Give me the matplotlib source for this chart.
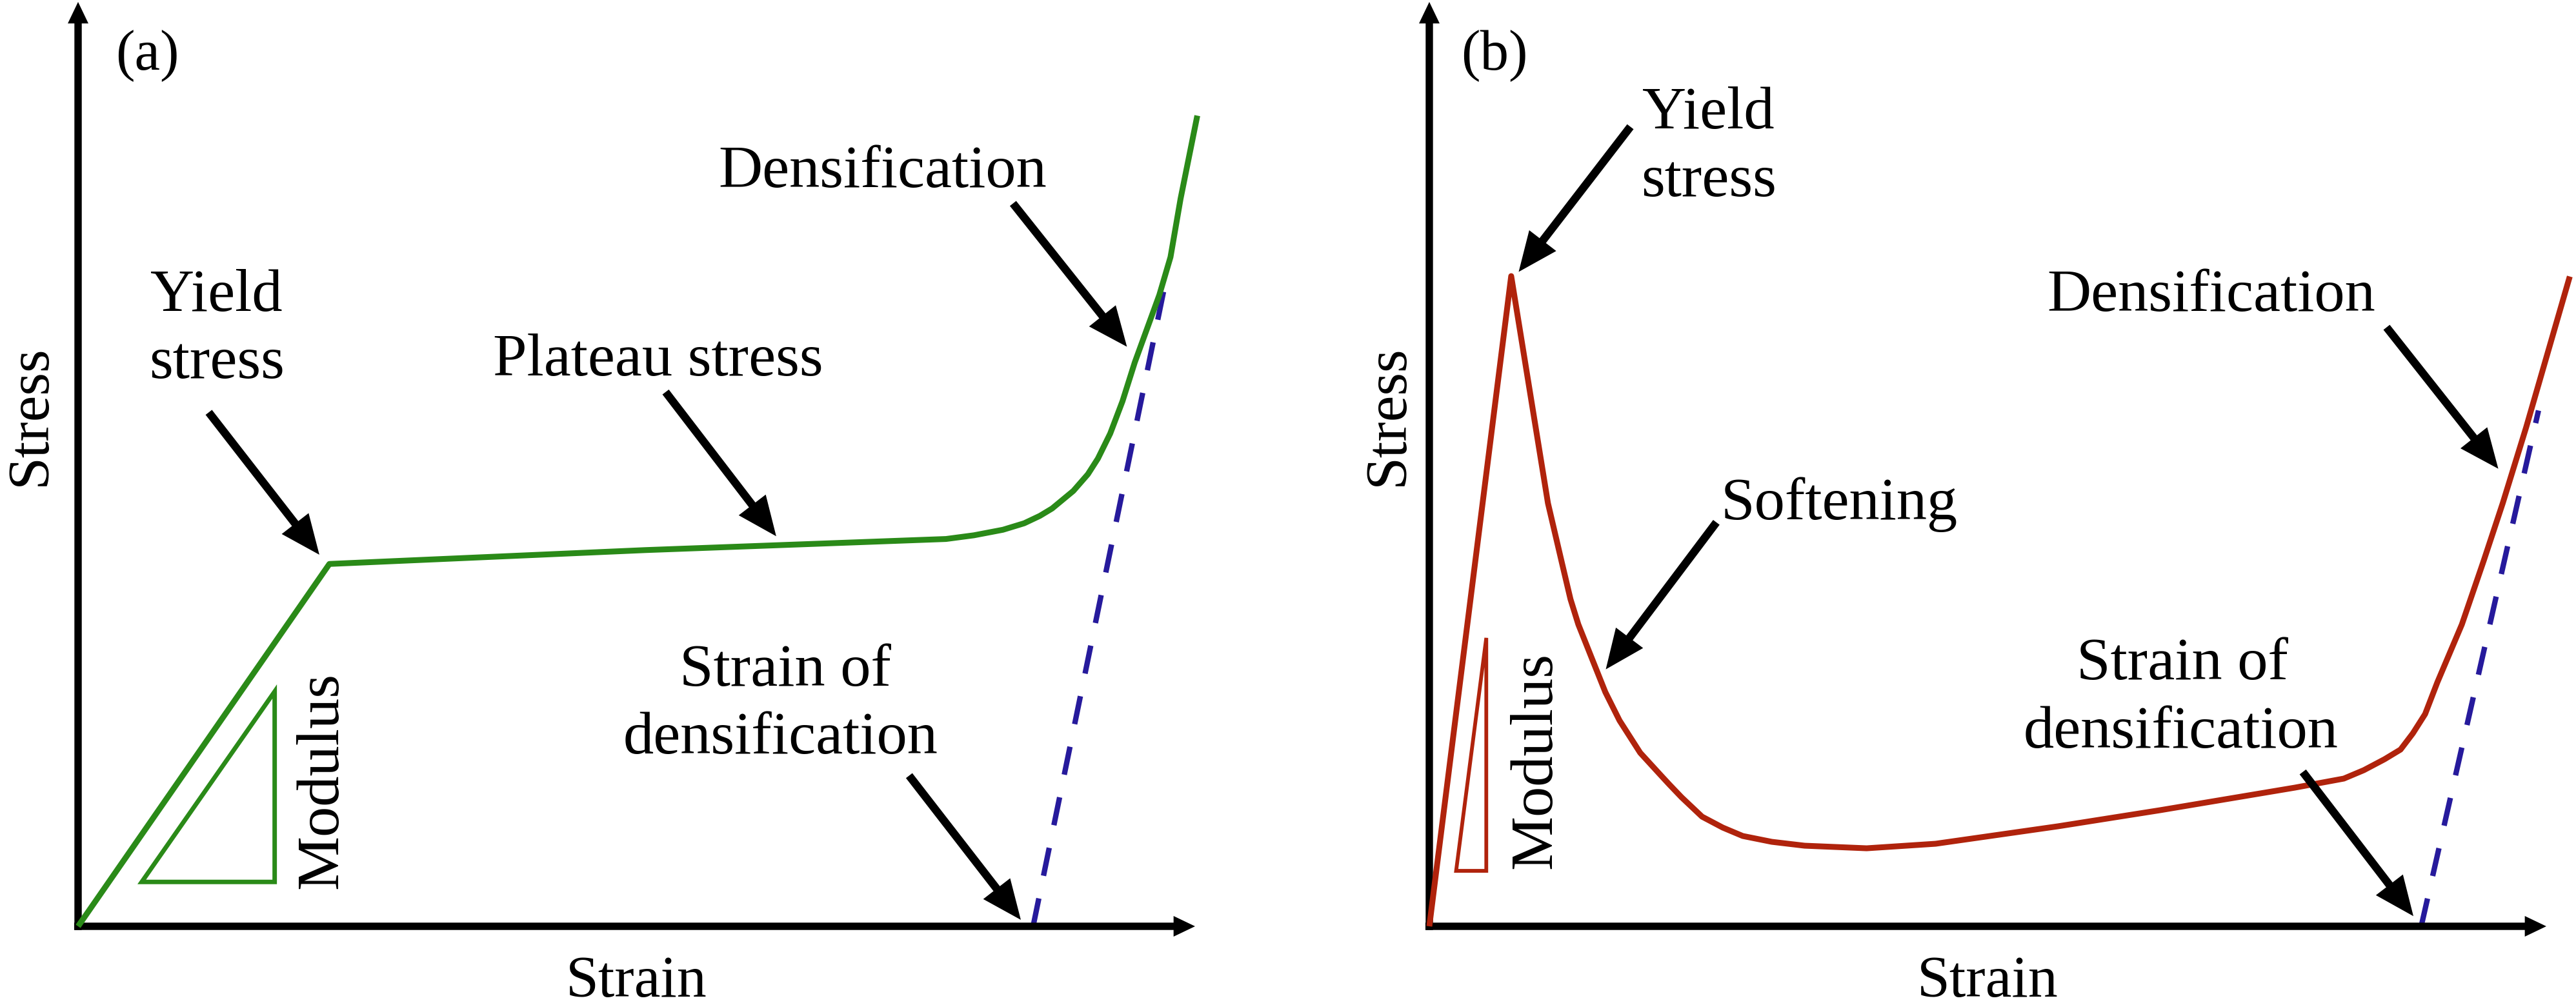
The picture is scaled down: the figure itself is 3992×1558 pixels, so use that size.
import matplotlib
matplotlib.use("Agg")
import matplotlib.pyplot as plt
from matplotlib.patches import Polygon

plt.rcParams['font.family'] = ['Liberation Serif', 'DejaVu Serif']

W, H, DPI = 3992, 1558, 100
GREEN = "#2a8a18"
RED = "#b0230c"
BLUE = "#261a9c"

# schematic curves, strain / stress in arbitrary units (axis arrow = 100)
a_strain = [0, 22.5, 50.8, 77.7, 80.2, 82.8, 84.7, 86.1, 87.2, 87.8, 89.1, 90.4,
            91.3, 92.4, 93.5, 94.6, 96.8, 97.8, 98.7, 100.2]
a_stress = [0, 39.2, 40.7, 41.9, 42.3, 42.9, 43.6, 44.4, 45.2, 45.8, 47.1, 48.9,
            50.6, 53.3, 56.8, 61.0, 68.3, 72.4, 78.7, 87.7]

b_strain = [0, 7.33, 10.62, 11.89, 12.64, 13.34, 14.49, 15.76, 17.03, 18.88,
            20.73, 21.48, 22.58, 24.42, 26.27, 28.06, 30.66, 33.6, 39.15, 45.32,
            56.29, 65.42, 77.48, 81.87, 83.66, 85.51, 86.95, 88.05, 89.15,
            90.24, 91.34, 92.44, 94.4, 96.1, 98.2, 102.1]
b_stress = [0, 70.34, 45.78, 39.22, 35.38, 32.66, 29.17, 25.33, 22.26, 18.77,
            16.33, 15.35, 13.96, 11.86, 10.68, 9.77, 9.14, 8.72, 8.44, 8.93,
            10.82, 12.56, 15.0, 15.98, 16.89, 18.07, 19.12, 20.87, 22.96,
            26.38, 29.52, 32.66, 39.57, 45.78, 54.0, 70.3]

# tangent lines giving the strain of densification
a_dash_x, a_dash_y = [85.5, 97.2], [0, 68.8]
b_dash_x, b_dash_y = [88.8, 99.3], [0, 55.8]

# modulus triangles
a_tri = [(5.7, 4.8), (17.6, 4.8), (17.6, 25.4)]
b_tri = [(2.4, 6.0), (5.1, 6.0), (5.1, 31.2)]

# annotation arrows: (tail, tip)
a_arrows = [((11.7, 55.6), (21.6, 40.2)),
            ((52.6, 57.8), (62.5, 42.2)),
            ((83.7, 78.2), (93.9, 62.7)),
            ((74.4, 16.3), (84.4, 0.7))]
b_arrows = [((18.0, 86.5), (8.0, 70.8)),
            ((25.7, 43.7), (15.8, 27.8)),
            ((85.7, 64.8), (95.7, 49.5)),
            ((78.2, 16.7), (88.1, 1.1))]

# labels: (text, x, baseline y)
a_labels = [("Yield", 12.4, 66.6), ("stress", 12.4, 59.3),
            ("Plateau stress", 51.9, 59.6), ("Densification", 72.0, 80.0),
            ("Strain of", 63.3, 26.0), ("densification", 62.9, 18.7)]
b_labels = [("Yield", 25.0, 86.3), ("stress", 25.0, 79.0),
            ("Softening", 36.7, 44.0), ("Densification", 70.0, 66.6),
            ("Strain of", 67.4, 26.7), ("densification", 67.3, 19.3)]

PX_X, PX_Y = 17.31, 14.33
SPLIT = 1995

fig = plt.figure(figsize=(W / DPI, H / DPI), dpi=DPI)
ax_a = fig.add_axes([0, 0, SPLIT / W, 1])
ax_a.set_xlim(-121 / PX_X, (SPLIT - 121) / PX_X)
ax_b = fig.add_axes([SPLIT / W, 0, (W - SPLIT) / W, 1])
ax_b.set_xlim((SPLIT - 2215) / PX_X, (W - 2215) / PX_X)
for ax in (ax_a, ax_b):
    ax.set_ylim(-(H - 1436) / PX_Y, 1436 / PX_Y)
    ax.axis("off")

axis_kw = dict(arrowstyle="simple,head_length=24,head_width=23,tail_width=8.2",
               mutation_scale=1, fc="black", ec="none", shrinkA=0, shrinkB=0)
ptr_kw = dict(arrowstyle="simple,head_length=44,head_width=38,tail_width=9",
              mutation_scale=1, fc="black", ec="none", shrinkA=0, shrinkB=0)


def draw_panel(ax, x, y, color, dx, dy, tri, tri_lw, arrows, labels, tag,
               tag_x, mod_x, mod_y, ylab_x):
    ax.annotate("", xy=(100, 0), xytext=(-0.35, 0), arrowprops=axis_kw,
                annotation_clip=False)
    ax.annotate("", xy=(0, 100), xytext=(0, -0.4), arrowprops=axis_kw,
                annotation_clip=False)
    ax.plot(dx, dy, color=BLUE, lw=6, dashes=(5.3, 4.3), zorder=2)
    ax.plot(x, y, color=color, lw=6.5, solid_joinstyle="round",
            solid_capstyle="butt", zorder=3)
    ax.add_patch(Polygon(tri, closed=True, fill=False, ec=color, lw=tri_lw,
                         joinstyle="miter", zorder=3))
    for tail, tip in arrows:
        ax.annotate("", xy=tip, xytext=tail, arrowprops=ptr_kw,
                    annotation_clip=False)
    for s, lx, ly in labels:
        ax.text(lx, ly, s, fontsize=68, ha="center", va="baseline")
    ax.text(tag_x, 92.7, tag, fontsize=64, ha="center", va="baseline")
    ax.text(mod_x, mod_y, "Modulus", fontsize=68, rotation=90,
            rotation_mode="anchor", ha="center", va="baseline")
    ax.text(ylab_x, 55.3, "Stress", fontsize=66, rotation=90,
            rotation_mode="anchor", ha="center", va="baseline")
    ax.text(50.0, -7.6, "Strain", fontsize=66, ha="center", va="baseline")


draw_panel(ax_a, a_strain, a_stress, GREEN, a_dash_x, a_dash_y, a_tri, 5,
           a_arrows, a_labels, "(a)", 6.2, 23.2, 15.8, -2.95)
draw_panel(ax_b, b_strain, b_stress, RED, b_dash_x, b_dash_y, b_tri, 4.2,
           b_arrows, b_labels, "(b)", 5.8, 10.9, 17.9, -2.4)

fig.savefig("out.png", dpi=DPI)
